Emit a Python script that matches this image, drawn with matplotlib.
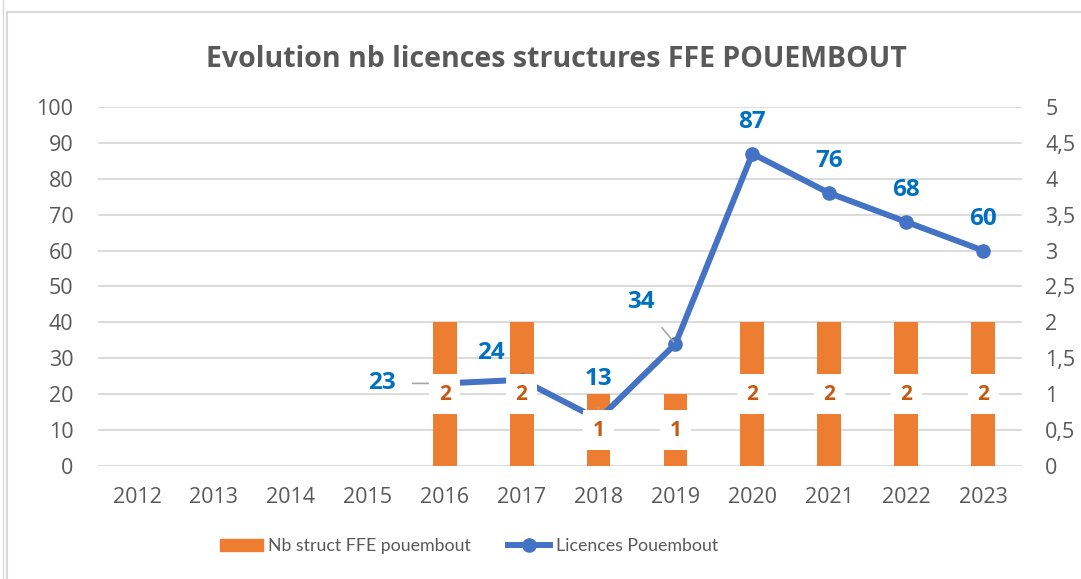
import numpy as np
from matplotlib import pyplot as plt
from matplotlib.lines import Line2D

# data
years = ['2012', '2013', '2014', '2015', '2016', '2017', '2018', '2019', '2020', '2021', '2022', '2023']
nb_struct = [None, None, None, None, 2, 2, 1, 1, 2, 2, 2, 2]
licences = [None, None, None, None, 23, 24, 13, 34, 87, 76, 68, 60]
left_ticks = list(range(0, 101, 10))
right_ticks = [0, 0.5, 1, 1.5, 2, 2.5, 3, 3.5, 4, 4.5, 5]
right_labels = ['0', '0,5', '1', '1,5', '2', '2,5', '3', '3,5', '4', '4,5', '5']

# label offsets in points (dx, dy) for the line labels
lab_off = {4: (-45, 0), 5: (-22, 19), 6: (0, 29), 7: (-25, 30),
           8: (0, 23), 9: (0, 23), 10: (0, 23), 11: (0, 23)}

plt.rcParams['font.family'] = ['Open Sans', 'DejaVu Sans']
txt_col = '#595959'
grid_col = '#D9D9D9'
bar_col = '#ED7D31'
line_col = '#4472C4'

fig = plt.figure(figsize=(10.81, 5.79), dpi=100)
ax = fig.add_axes([0.0911, 0.1952, 0.854, 0.62])
ax2 = ax.twinx()
ax.set_zorder(ax2.get_zorder() + 1)
ax.patch.set_visible(False)

x = np.arange(len(years))

# bars on the right axis
bx = [i for i, v in enumerate(nb_struct) if v is not None]
bv = [v for v in nb_struct if v is not None]
ax2.bar(bx, bv, width=0.31, color=bar_col, zorder=2, label='Nb struct FFE pouembout')

# line on the left axis
lx = [i for i, v in enumerate(licences) if v is not None]
lv = [v for v in licences if v is not None]
ax.plot(lx, lv, '-o', color=line_col, lw=4.3, ms=9.5, zorder=3, label='Licences Pouembout')
for xi, v in zip(lx, lv):
    dx, dy = lab_off[xi]
    lead = xi in (4, 5, 6, 7)
    ax.annotate(str(v), (xi, v), xytext=(dx, dy), textcoords='offset points',
                ha='center', va='center', fontsize=17.5, fontweight='bold', color='#0070C0',
                arrowprops=dict(arrowstyle='-', color='#A6A6A6', lw=1.2, shrinkA=10, shrinkB=2) if lead else None)

# bar labels sit above the line (white boxes hide it)
for xi, v in zip(bx, bv):
    ax.text(xi, v / 2, str(v), transform=ax2.transData, ha='center', va='center', fontsize=15,
            fontweight='bold', color='#C55A11', zorder=6,
            bbox=dict(boxstyle='square,pad=0.45', facecolor='white', edgecolor='none'))

# axes
ax.set_xlim(-0.5, len(years) - 0.5)
ax.set_ylim(0, 100)
ax2.set_ylim(0, 5)
ax.set_xticks(x)
ax.set_xticklabels(years)
ax.set_yticks(left_ticks)
ax2.set_yticks(right_ticks)
ax2.set_yticklabels(right_labels)
for a in (ax, ax2):
    for s in a.spines.values():
        s.set_visible(False)
    a.tick_params(length=0, labelsize=15.5, labelcolor=txt_col)
ax.tick_params(axis='y', pad=18)
ax2.tick_params(axis='y', pad=17)
ax.tick_params(axis='x', pad=15)
ax2.grid(axis='y', color=grid_col, lw=1.3, zorder=0)
ax2.set_axisbelow(True)

fig.text(0.515, 0.897, 'Evolution nb licences structures FFE POUEMBOUT', ha='center', va='center',
         fontsize=20.5, fontweight='bold', color=txt_col)

# legend
h1 = plt.Rectangle((0, 0), 1, 1, color=bar_col)
h2 = Line2D([], [], color=line_col, lw=4.3, marker='o', ms=9.5)
fig.legend([h1, h2], ['Nb struct FFE pouembout', 'Licences Pouembout'], loc='center',
           bbox_to_anchor=(0.434, 0.057), ncol=2, frameon=False,
           prop={'family': ['Lato', 'DejaVu Sans'], 'size': 12.8},
           labelcolor=txt_col, handlelength=2.4, columnspacing=2.05, handletextpad=0.3)

# chart frame
fig.add_artist(Line2D([0.0065, 0.0065], [0, 0.979], color='#D9D9D9', lw=1.5, transform=fig.transFigure))
fig.add_artist(Line2D([0.0065, 1], [0.979, 0.979], color='#D9D9D9', lw=1.5, transform=fig.transFigure))
fig.add_artist(Line2D([0.003, 0.003], [0, 1], color='#D9D9D9', lw=1.0, transform=fig.transFigure))

fig.savefig('out.png', dpi=100)
plt.close()
